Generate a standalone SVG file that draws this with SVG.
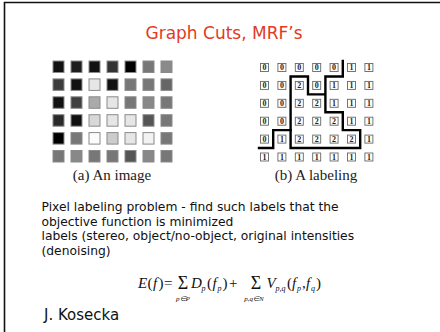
<svg xmlns="http://www.w3.org/2000/svg" width="440" height="332" viewBox="0 0 440 332">
<style>
.c{stroke:#8a8a8a;stroke-width:1}
.b{fill:#fff;stroke:#666;stroke-width:0.9}
.d{font-family:"Liberation Serif",serif;font-size:8px;font-weight:bold;text-anchor:middle;fill:#222}
.cap{font-family:"Liberation Serif",serif;font-size:15px;text-anchor:middle;fill:#222}
.body{font-family:"DejaVu Sans",Verdana,sans-serif;font-size:12.3px;fill:#111}
.m{font-family:"Liberation Serif",serif;font-style:italic;fill:#111}
.u{font-style:normal}
.cut{fill:none;stroke:#000;stroke-width:2.4;stroke-linejoin:miter;stroke-linecap:square}
</style>
<rect width="440" height="332" fill="#fff"/>
<path d="M4.5,332 V2.5 H440" fill="none" stroke="#111" stroke-width="1.6"/>
<text x="224" y="39" font-family="DejaVu Sans,Verdana,sans-serif" font-size="17" fill="#E33A1E" text-anchor="middle">Graph Cuts, MRF’s</text>
<g id="image-grid">
<g class="c">
<rect x="53" y="61" width="11" height="11.5" fill="#111"/>
<rect x="71" y="61" width="11" height="11.5" fill="#1e1e1e"/>
<rect x="89" y="61" width="11" height="11.5" fill="#111"/>
<rect x="107" y="61" width="11" height="11.5" fill="#333"/>
<rect x="125" y="61" width="11" height="11.5" fill="#000"/>
<rect x="143" y="61" width="11" height="11.5" fill="#777"/>
<rect x="161" y="61" width="11" height="11.5" fill="#8a8a8a"/>
<rect x="53" y="78.9" width="11" height="11.5" fill="#3c3c3c"/>
<rect x="71" y="78.9" width="11" height="11.5" fill="#111"/>
<rect x="89" y="78.9" width="11" height="11.5" fill="#e6e6e6"/>
<rect x="107" y="78.9" width="11" height="11.5" fill="#111"/>
<rect x="125" y="78.9" width="11" height="11.5" fill="#777"/>
<rect x="143" y="78.9" width="11" height="11.5" fill="#777"/>
<rect x="161" y="78.9" width="11" height="11.5" fill="#666"/>
<rect x="53" y="96.8" width="11" height="11.5" fill="#111"/>
<rect x="71" y="96.8" width="11" height="11.5" fill="#3f3f3f"/>
<rect x="89" y="96.8" width="11" height="11.5" fill="#aaa"/>
<rect x="107" y="96.8" width="11" height="11.5" fill="#e6e6e6"/>
<rect x="125" y="96.8" width="11" height="11.5" fill="#777"/>
<rect x="143" y="96.8" width="11" height="11.5" fill="#888"/>
<rect x="161" y="96.8" width="11" height="11.5" fill="#777"/>
<rect x="53" y="114.7" width="11" height="11.5" fill="#2a2a2a"/>
<rect x="71" y="114.7" width="11" height="11.5" fill="#111"/>
<rect x="89" y="114.7" width="11" height="11.5" fill="#d8d8d8"/>
<rect x="107" y="114.7" width="11" height="11.5" fill="#e6e6e6"/>
<rect x="125" y="114.7" width="11" height="11.5" fill="#e6e6e6"/>
<rect x="143" y="114.7" width="11" height="11.5" fill="#555"/>
<rect x="161" y="114.7" width="11" height="11.5" fill="#777"/>
<rect x="53" y="132.6" width="11" height="11.5" fill="#000"/>
<rect x="71" y="132.6" width="11" height="11.5" fill="#777"/>
<rect x="89" y="132.6" width="11" height="11.5" fill="#fcfcfc"/>
<rect x="107" y="132.6" width="11" height="11.5" fill="#ccc"/>
<rect x="125" y="132.6" width="11" height="11.5" fill="#e6e6e6"/>
<rect x="143" y="132.6" width="11" height="11.5" fill="#f2f2f2"/>
<rect x="161" y="132.6" width="11" height="11.5" fill="#777"/>
<rect x="53" y="150.5" width="11" height="11.5" fill="#777"/>
<rect x="71" y="150.5" width="11" height="11.5" fill="#888"/>
<rect x="89" y="150.5" width="11" height="11.5" fill="#777"/>
<rect x="107" y="150.5" width="11" height="11.5" fill="#777"/>
<rect x="125" y="150.5" width="11" height="11.5" fill="#555"/>
<rect x="143" y="150.5" width="11" height="11.5" fill="#888"/>
<rect x="161" y="150.5" width="11" height="11.5" fill="#777"/>
</g>
<text class="cap" x="112" y="180">(a) An image</text>
</g>
<g id="label-grid">
<g id="boxes">
<rect class="b" x="260.5" y="63.5" width="8" height="8"/><rect class="b" x="277.9" y="63.5" width="8" height="8"/><rect class="b" x="295.3" y="63.5" width="8" height="8"/><rect class="b" x="312.7" y="63.5" width="8" height="8"/><rect class="b" x="330.1" y="63.5" width="8" height="8"/><rect class="b" x="347.5" y="63.5" width="8" height="8"/><rect class="b" x="364.9" y="63.5" width="8" height="8"/>
<rect class="b" x="260.5" y="81.4" width="8" height="8"/><rect class="b" x="277.9" y="81.4" width="8" height="8"/><rect class="b" x="295.3" y="81.4" width="8" height="8"/><rect class="b" x="312.7" y="81.4" width="8" height="8"/><rect class="b" x="330.1" y="81.4" width="8" height="8"/><rect class="b" x="347.5" y="81.4" width="8" height="8"/><rect class="b" x="364.9" y="81.4" width="8" height="8"/>
<rect class="b" x="260.5" y="99.3" width="8" height="8"/><rect class="b" x="277.9" y="99.3" width="8" height="8"/><rect class="b" x="295.3" y="99.3" width="8" height="8"/><rect class="b" x="312.7" y="99.3" width="8" height="8"/><rect class="b" x="330.1" y="99.3" width="8" height="8"/><rect class="b" x="347.5" y="99.3" width="8" height="8"/><rect class="b" x="364.9" y="99.3" width="8" height="8"/>
<rect class="b" x="260.5" y="117.2" width="8" height="8"/><rect class="b" x="277.9" y="117.2" width="8" height="8"/><rect class="b" x="295.3" y="117.2" width="8" height="8"/><rect class="b" x="312.7" y="117.2" width="8" height="8"/><rect class="b" x="330.1" y="117.2" width="8" height="8"/><rect class="b" x="347.5" y="117.2" width="8" height="8"/><rect class="b" x="364.9" y="117.2" width="8" height="8"/>
<rect class="b" x="260.5" y="135.1" width="8" height="8"/><rect class="b" x="277.9" y="135.1" width="8" height="8"/><rect class="b" x="295.3" y="135.1" width="8" height="8"/><rect class="b" x="312.7" y="135.1" width="8" height="8"/><rect class="b" x="330.1" y="135.1" width="8" height="8"/><rect class="b" x="347.5" y="135.1" width="8" height="8"/><rect class="b" x="364.9" y="135.1" width="8" height="8"/>
<rect class="b" x="260.5" y="153" width="8" height="8"/><rect class="b" x="277.9" y="153" width="8" height="8"/><rect class="b" x="295.3" y="153" width="8" height="8"/><rect class="b" x="312.7" y="153" width="8" height="8"/><rect class="b" x="330.1" y="153" width="8" height="8"/><rect class="b" x="347.5" y="153" width="8" height="8"/><rect class="b" x="364.9" y="153" width="8" height="8"/>
</g>
<g id="digits" class="d">
<text x="264.5" y="70.3">0</text><text x="281.9" y="70.3">0</text><text x="299.3" y="70.3">0</text><text x="316.7" y="70.3">0</text><text x="334.1" y="70.3">0</text><text x="351.5" y="70.3">1</text><text x="368.9" y="70.3">1</text>
<text x="264.5" y="88.2">0</text><text x="281.9" y="88.2">0</text><text x="299.3" y="88.2">2</text><text x="316.7" y="88.2">0</text><text x="334.1" y="88.2">1</text><text x="351.5" y="88.2">1</text><text x="368.9" y="88.2">1</text>
<text x="264.5" y="106.1">0</text><text x="281.9" y="106.1">0</text><text x="299.3" y="106.1">2</text><text x="316.7" y="106.1">2</text><text x="334.1" y="106.1">1</text><text x="351.5" y="106.1">1</text><text x="368.9" y="106.1">1</text>
<text x="264.5" y="124">0</text><text x="281.9" y="124">0</text><text x="299.3" y="124">2</text><text x="316.7" y="124">2</text><text x="334.1" y="124">2</text><text x="351.5" y="124">1</text><text x="368.9" y="124">1</text>
<text x="264.5" y="141.9">0</text><text x="281.9" y="141.9">1</text><text x="299.3" y="141.9">2</text><text x="316.7" y="141.9">2</text><text x="334.1" y="141.9">2</text><text x="351.5" y="141.9">2</text><text x="368.9" y="141.9">1</text>
<text x="264.5" y="159.8">1</text><text x="281.9" y="159.8">1</text><text x="299.3" y="159.8">1</text><text x="316.7" y="159.8">1</text><text x="334.1" y="159.8">1</text><text x="351.5" y="159.8">1</text><text x="368.9" y="159.8">1</text>
</g>
<g id="cuts" class="cut">
<path d="M342.8,61 V76.45 H325.4 V112.25 H342.8 V130.15 H360.2 V148.05 H290.6 V76.45 H308 V94.35 H325.4"/>
<path d="M259,148.05 H273.2 V130.15 H290.6"/>
</g>
<text class="cap" x="316" y="180">(b) A labeling</text>
</g>
<g id="text" class="body">
<text x="41.5" y="210.7">Pixel labeling problem - find such labels that the</text>
<text x="41.5" y="225.5">objective function is minimized</text>
<text x="41.5" y="240.3">labels (stereo, object/no-object, original intensities</text>
<text x="41.5" y="255">(denoising)</text>
</g>
<g id="formula" class="m" font-size="15">
<text x="138" y="288">E</text>
<text x="147.5" y="288" class="u">(</text>
<text x="153" y="288">f</text>
<text x="158.5" y="288" class="u">)</text>
<text x="164" y="288" class="u">=</text>
<text x="183" y="289" font-size="18" class="u" text-anchor="middle">Σ</text>
<text x="183" y="300.5" font-size="7" text-anchor="middle">p∈P</text>
<text x="191" y="288">D</text>
<text x="201.5" y="291" font-size="8">p</text>
<text x="207" y="288" class="u">(</text>
<text x="212.5" y="288">f</text>
<text x="217.5" y="291" font-size="8">p</text>
<text x="222.5" y="288" class="u">)</text>
<text x="229" y="288" class="u">+</text>
<text x="256" y="289" font-size="18" class="u" text-anchor="middle">Σ</text>
<text x="254" y="300.5" font-size="7" text-anchor="middle">p,q∈N</text>
<text x="266.5" y="288">V</text>
<text x="275.5" y="291" font-size="8">p,q</text>
<text x="287" y="288" class="u">(</text>
<text x="292" y="288">f</text>
<text x="297" y="291" font-size="8">p</text>
<text x="302" y="288" class="u">,</text>
<text x="306" y="288">f</text>
<text x="311" y="291" font-size="8">q</text>
<text x="316" y="288" class="u">)</text>
</g>
<text x="44" y="320" font-family="DejaVu Sans,Verdana,sans-serif" font-size="15" fill="#111">J. Kosecka</text>
</svg>
